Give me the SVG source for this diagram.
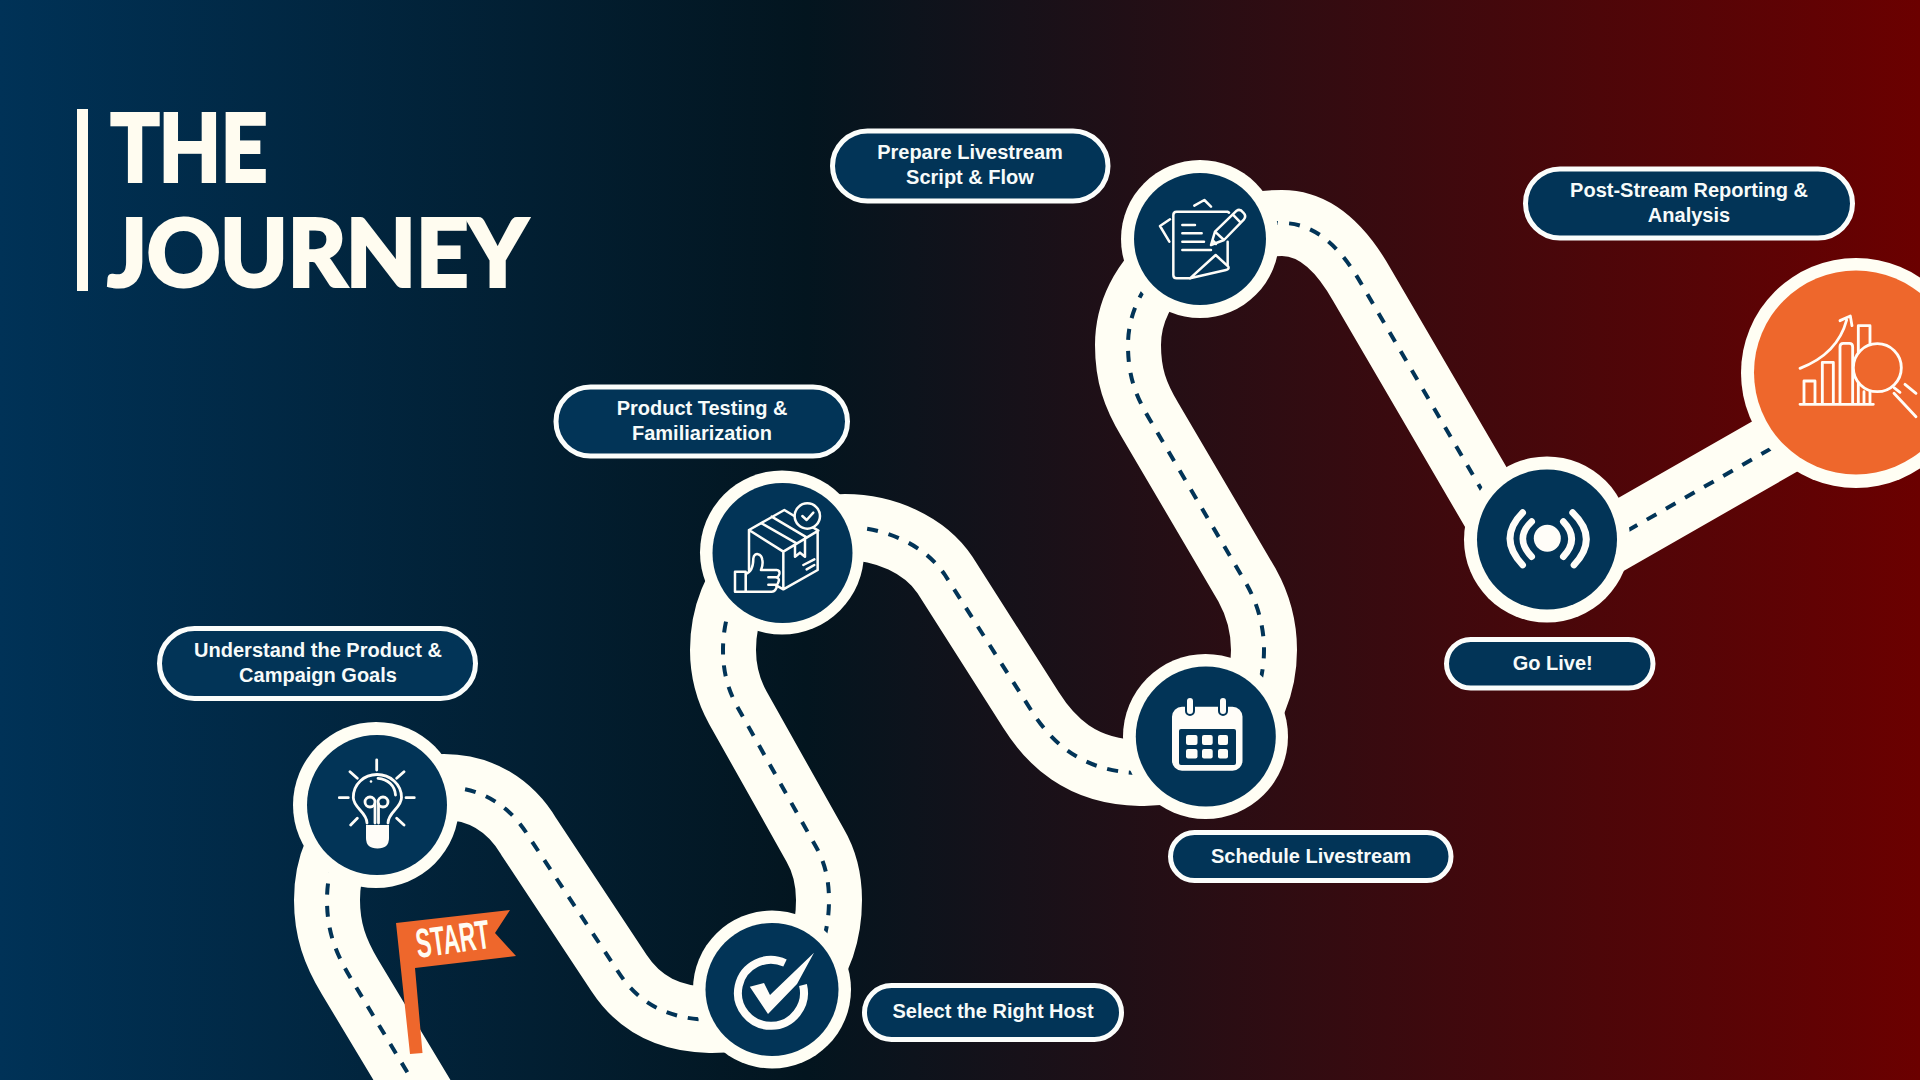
<svg xmlns="http://www.w3.org/2000/svg" width="1920" height="1080" viewBox="0 0 1920 1080">
<defs>
<linearGradient id="bg" x1="0" y1="0" x2="1" y2="0">
<stop offset="0" stop-color="#003257"/>
<stop offset="0.42" stop-color="#03151f"/>
<stop offset="1" stop-color="#6b0000"/>
</linearGradient>
</defs>
<style>
.road{fill:none;stroke:#fffef4;stroke-width:66;stroke-linejoin:round}
.dash{fill:none;stroke:#023457;stroke-width:4;stroke-dasharray:11 11}
.ring{fill:#fffef4}
.disc{fill:#023457}
.orange{fill:#ee672c}
.pill{fill:#023457;stroke:#fbfdfb;stroke-width:5}
.lbl{font-family:"Liberation Sans",Arial,sans-serif;font-weight:700;font-size:20px;fill:#f7fbfa;text-anchor:middle}
.title{font-family:Lato,"Liberation Sans",sans-serif;font-weight:700;font-size:92px;fill:#fffcf0;stroke:#fffcf0;stroke-width:4;stroke-linejoin:miter}
.ic{fill:none;stroke:#fffdf8;stroke-linecap:round;stroke-linejoin:round}
.ic3{stroke-width:7.5}
.w{fill:#fffdf8}
</style>
<rect width="1920" height="1080" fill="url(#bg)"/>
<g id="title">
<rect x="77" y="109" width="11" height="182" fill="#fffcf0"/>
<text class="title" x="111" y="181" textLength="156" lengthAdjust="spacingAndGlyphs">THE</text>
<text class="title" x="108" y="286" textLength="419" lengthAdjust="spacingAndGlyphs">JOURNEY</text>
</g>
<g id="connectors">
<path id="road" class="road" d="M430 1110 L350 977 C335 952 327 930 327 900 C327 830 380 787 444 787 C480 787 510 805 529 837 L619 973 C640 1005 670 1019 710 1020 C790 1021 829 965 829 900 C829 880 825 862 815 845 L738 708 C728 690 723 672 723 650 C723 580 775 527 845 527 C885 527 925 545 945 575 L1031 710 C1050 740 1080 772 1140 773 C1210 775 1264 720 1264 650 C1264 625 1257 603 1247 585 L1150 420 C1135 395 1128 375 1128 345 C1128 280 1190 223 1282 223 C1320 223 1345 255 1362 285 L1536 583 L1856 400"/>
<path id="lane" class="dash" d="M430 1110 L350 977 C335 952 327 930 327 900 C327 830 380 787 444 787 C480 787 510 805 529 837 L619 973 C640 1005 670 1019 710 1020 C790 1021 829 965 829 900 C829 880 825 862 815 845 L738 708 C728 690 723 672 723 650 C723 580 775 527 845 527 C885 527 925 545 945 575 L1031 710 C1050 740 1080 772 1140 773 C1210 775 1264 720 1264 650 C1264 625 1257 603 1247 585 L1150 420 C1135 395 1128 375 1128 345 C1128 280 1190 223 1282 223 C1320 223 1345 255 1362 285 L1536 583 L1856 400"/>
</g>
<g id="flag">
<polygon class="orange" points="396,923 510,910 495,933 516,956 415,968 422.5,1053 410,1054"/>
<text x="0" y="0" transform="translate(418,958) rotate(-8)" font-family="'Liberation Sans',sans-serif" font-weight="700" font-size="41" fill="#fffdf3" textLength="74" lengthAdjust="spacingAndGlyphs">START</text>
</g>
<g id="node-understand">
<circle class="ring" cx="376" cy="805" r="83"/><circle class="disc" cx="377" cy="805" r="70"/>
<g class="ic" stroke-width="2.8">
<path d="M376.7 760V770M339.3 797.7H348.3M406 797.7H414.3M350 771.7L357.3 778.3M404 771.7L396.7 778.3M350.7 825L357.3 818.3M404 825L396.7 818.3"/>
<path d="M367 823C367 812 353.3 808 353.3 797.5C353.3 784 364 774.5 377 774.5C390 774.5 401.5 784 401.5 797.5C401.5 808 388 812 388 823"/>
<path d="M378 778.3C388 779 395 786 395.5 795"/>
<circle cx="370" cy="802" r="5"/><circle cx="383" cy="802" r="5"/>
<path d="M375 804V823M378.5 804V823"/>
</g>
<circle class="w" cx="371" cy="781.5" r="1.3"/>
<path class="w" d="M366 825H389V838Q389 848.5 377.5 848.5Q366 848.5 366 838Z"/>
</g>
<g id="node-host">
<circle class="ring" cx="772" cy="989.5" r="79"/><circle class="disc" cx="772" cy="989.5" r="66.5"/>
<path d="M785 963A33 33 0 1 0 803 985" fill="none" stroke="#fffdf8" stroke-width="8"/>
<polygon class="w" points="749.8,986.7 764,983 770,995 814,952.7 797,984 768,1014"/>
</g>
<g id="node-testing">
<circle class="ring" cx="782" cy="552.5" r="82"/><circle class="disc" cx="782.5" cy="553" r="70"/>
<g transform="translate(725,490) scale(.3333)">
<g class="ic ic3">
<path d="M72 120L178 60L280 122L175 185ZM72 120V240L175 298L278 240V122M175 185V298M110 100L215 160M140 80L245 142M210 165V200L225 188L240 200V145M235 225L268 208M245 238L268 225"/>
<circle cx="247" cy="78" r="38" fill="#023457"/>
<path d="M232 78L245 90L265 68"/>
<path fill="#023457" d="M62 252C75 248 85 235 85 205C88 185 110 190 112 210C115 225 110 235 108 240H155Q165 240 163 252Q160 262 155 262Q165 265 160 277Q157 285 152 285Q158 290 152 298Q148 305 140 305H62Z"/>
<path d="M130 262H155M130 284H150"/>
<rect x="30" y="245" width="32" height="60" fill="#023457"/>
</g>
</g>
</g>
<g id="node-schedule">
<circle class="ring" cx="1205.500" cy="736.500" r="82.500"/><circle class="disc" cx="1205.800" cy="736.500" r="70"/>
<rect class="w" x="1172" y="706.700" width="70.500" height="64" rx="10"/>
<rect class="disc" x="1179" y="729" width="57" height="36" rx="2"/>
<g class="w">
<rect x="1186" y="735" width="11.500" height="10" rx="2"/><rect x="1202" y="735" width="10.700" height="10" rx="2"/><rect x="1218" y="735" width="10" height="10" rx="2"/>
<rect x="1186" y="749" width="11.500" height="9.500" rx="2"/><rect x="1202" y="749" width="10.700" height="9.500" rx="2"/><rect x="1218" y="749" width="10" height="9.500" rx="2"/>
</g>
<rect x="1186" y="697" width="8" height="18" rx="4" fill="#fffdf8" stroke="#023457" stroke-width="2"/>
<rect x="1219" y="697" width="8" height="18" rx="4" fill="#fffdf8" stroke="#023457" stroke-width="2"/>
</g>
<g id="node-script">
<circle class="ring" cx="1200" cy="239" r="79"/><circle class="disc" cx="1200" cy="239" r="66"/>
<g transform="translate(1150,190) scale(.3333)">
<g class="ic ic3">
<path d="M237 68L232 65H80Q70 65 70 75V255Q70 265 80 265H120M233 155V225M58 155L30 108L60 88M133 47L163 30L183 50M97 105H135M97 130H155M97 155H162M97 180H183"/>
<path d="M120 265L197 195L235 230Q238 238 228 240Z"/>
<path d="M183 165L195 125L260 62Q270 55 280 68Q290 78 282 88L222 150ZM195 125L222 150M248 73L272 98M188 150L198 162"/>
</g>
</g>
</g>
<g id="node-live">
<circle class="ring" cx="1547" cy="539.500" r="83"/><circle class="disc" cx="1547" cy="539.500" r="70"/>
<circle class="w" cx="1547.300" cy="538.300" r="13.500"/>
<g transform="translate(1440,240) scale(.3333)" class="ic" stroke-width="20">
<path d="M275 845Q222 895 275 950M370 845Q420 897 370 950M248 818Q172 895 248 975M398 818Q478 895 402 975"/>
</g>
</g>
<g id="node-report">
<circle class="ring" cx="1856" cy="373" r="115"/><circle class="orange" cx="1856" cy="372.500" r="102"/>
<g transform="translate(1790,305) scale(.3333)">
<g class="ic" stroke-width="8.5">
<path d="M30 298H250M42 298V228H75V298M97 298V172H130V298M150 298V125Q150 115 160 115H178Q188 115 188 125V298M205 298V62H240V298M222 260V298"/>
<path d="M30 190C95 165 150 120 170 45M150 47L181 33L186 62"/>
<circle cx="262" cy="188" r="72" fill="#ee672c"/>
<path d="M312 265L378 335M345 238L378 265M312 248L330 262"/>
</g>
</g>
</g>
<g id="label-understand"><rect class="pill" x="159.500" y="628.500" width="316" height="70" rx="35"/><text class="lbl" x="318" y="657">Understand the Product &amp;</text><text class="lbl" x="318" y="682">Campaign Goals</text></g>
<g id="label-testing"><rect class="pill" x="556" y="387" width="291.500" height="69" rx="34.500"/><text class="lbl" x="702" y="415">Product Testing &amp;</text><text class="lbl" x="702" y="440">Familiarization</text></g>
<g id="label-prepare"><rect class="pill" x="832.500" y="131" width="275.500" height="70" rx="35"/><text class="lbl" x="970" y="158.500">Prepare Livestream</text><text class="lbl" x="970" y="183.500">Script &amp; Flow</text></g>
<g id="label-post"><rect class="pill" x="1525.500" y="169" width="327" height="69" rx="34.500"/><text class="lbl" x="1689" y="197">Post-Stream Reporting &amp;</text><text class="lbl" x="1689" y="222">Analysis</text></g>
<g id="label-live"><rect class="pill" x="1446.500" y="639.500" width="206.500" height="48.500" rx="24.250"/><text class="lbl" x="1552.700" y="670">Go Live!</text></g>
<g id="label-schedule"><rect class="pill" x="1170.500" y="832.500" width="280.500" height="48" rx="24"/><text class="lbl" x="1311" y="863">Schedule Livestream</text></g>
<g id="label-host"><rect class="pill" x="864.500" y="985.500" width="257" height="54" rx="27"/><text class="lbl" x="993" y="1017.500">Select the Right Host</text></g>
</svg>
